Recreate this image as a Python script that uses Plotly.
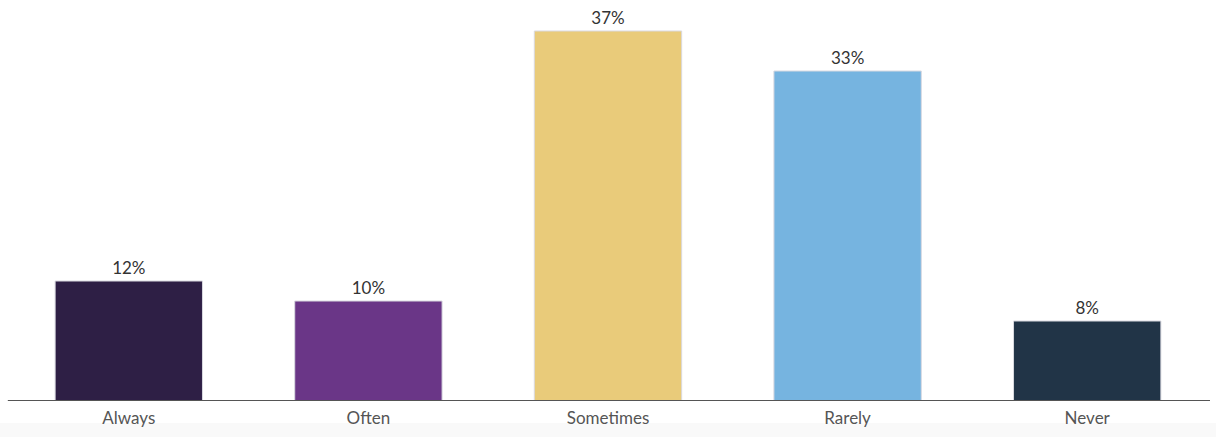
import plotly.graph_objects as go

categories = ["Always", "Often", "Sometimes", "Rarely", "Never"]
values = [12, 10, 37, 33, 8]
bar_colors = ["#2e1f45", "#6a3687", "#e9cb7a", "#76b4e0", "#213447"]

W, H = 1216, 437

fig = go.Figure(
    go.Bar(
        x=categories,
        y=values,
        marker=dict(color=bar_colors, line=dict(color="#d9d9e0", width=1)),
        text=[f"{v}%" for v in values],
        textposition="outside",
        textfont=dict(family="Lato", size=17, color="#333333"),
        cliponaxis=False,
        width=0.615,
    )
)

fig.update_layout(
    width=W,
    height=H,
    margin=dict(l=9, r=9, t=1, b=36),
    paper_bgcolor="white",
    plot_bgcolor="white",
    showlegend=False,
    bargap=0.385,
    xaxis=dict(
        showgrid=False,
        showline=False,
        ticks="",
        ticklabelstandoff=5,
        tickfont=dict(family="Lato", size=17, color="#555555"),
    ),
    yaxis=dict(range=[0, 40], visible=False, showgrid=False, zeroline=False),
    shapes=[
        # faint band under the category labels
        dict(type="rect", xref="paper", yref="paper", x0=-0.01, x1=1.01,
             y0=-36 / 400, y1=-22 / 400, fillcolor="#f9f9f9",
             line=dict(width=0), layer="below"),
        # baseline
        dict(type="line", xref="paper", yref="y", x0=-0.001, x1=1.0025,
             y0=0, y1=0, line=dict(color="#555555", width=2)),
    ],
)

fig.write_html("out.html")
